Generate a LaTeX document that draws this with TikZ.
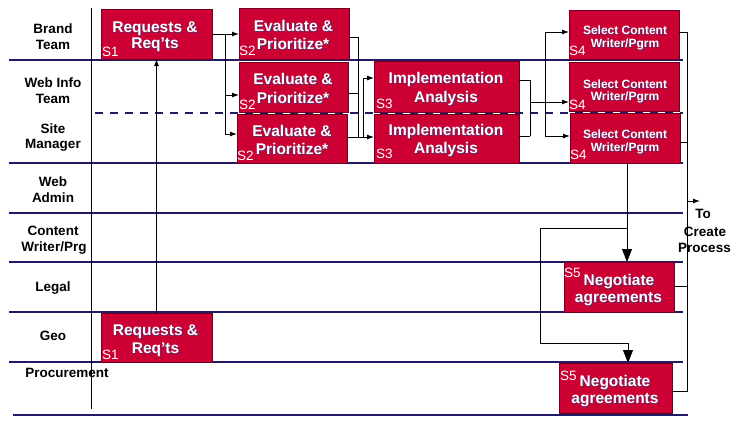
\documentclass[tikz,border=0pt]{standalone}
\usepackage{fontspec}
\setmainfont{Liberation Sans}
\usetikzlibrary{arrows.meta}
\definecolor{lane}{RGB}{35,25,100}
\definecolor{boxfill}{RGB}{204,0,51}
\definecolor{boxline}{RGB}{110,0,35}
\definecolor{shd}{RGB}{95,45,105}
\newcommand\bxtxt[5]{%
  \node[font=\bfseries\fontsize{#4}{#4}\selectfont,text=shd,anchor=base,inner sep=0pt] (#1s) at ({#2+1.1},{#3+1.1}) {#5};
  \node[font=\bfseries\fontsize{#4}{#4}\selectfont,text=white,anchor=base,inner sep=0pt] (#1) at (#2,#3) {#5};}
\begin{document}
\begin{tikzpicture}[x=1pt,y=-1pt,
  laneline/.style={draw=lane,line width=1.6pt},
  procbox/.style={rectangle,fill=boxfill,draw=boxline,line width=0.8pt,inner sep=0pt,outer sep=0pt},
  conn/.style={draw=black,line width=0.9pt},
  arr/.style={conn,-{Latex[length=7pt,width=5pt]}},
  bigarr/.style={conn,-{Triangle[length=13pt,width=10pt]}},
  lanelbl/.style={font=\bfseries\fontsize{13.5}{13.5}\selectfont,anchor=base,inner sep=0pt},
  stag/.style={font=\fontsize{13.5}{13.5}\selectfont,text=white,anchor=base west,inner sep=0pt}]
\useasboundingbox (0,0) rectangle (734,424);
% lanes
\draw[laneline] (9,60) -- (683,60);
\draw[laneline,dash pattern=on 8pt off 7pt] (95,113) -- (683,113);
\draw[laneline] (9,163) -- (683,163);
\draw[laneline] (9,213) -- (683,213);
\draw[laneline] (9,262) -- (683,262);
\draw[laneline] (9,312) -- (683,312);
\draw[laneline] (9,362) -- (683,362);
\draw[laneline] (13,415) -- (688,415);
\draw[line width=1pt] (91.5,8) -- (91.5,409);
% lane labels
\node[lanelbl] (l1a) at (53,33) {Brand};
\node[lanelbl] (l1b) at (53,49) {Team};
\node[lanelbl] (l2a) at (53,87) {Web Info};
\node[lanelbl] (l2b) at (53,103) {Team};
\node[lanelbl] (l3a) at (53,133) {Site};
\node[lanelbl] (l3b) at (53,148) {Manager};
\node[lanelbl] (l4a) at (53,186) {Web};
\node[lanelbl] (l4b) at (53,202) {Admin};
\node[lanelbl] (l5a) at (53,235) {Content};
\node[lanelbl] (l5b) at (54,251) {Writer/Prg};
\node[lanelbl] (l6) at (53,291) {Legal};
\node[lanelbl] (l7) at (53,340) {Geo};
\node[lanelbl] (l8) at (67,377) {Procurement};
% boxes
\node[procbox,minimum width=111pt,minimum height=50pt] (s1b) at (156.5,34) {};
\node[procbox,minimum width=111pt,minimum height=49pt] (s1g) at (156.5,337.5) {};
\node[procbox,minimum width=110pt,minimum height=51pt] (s2b) at (294,33.5) {};
\node[procbox,minimum width=109pt,minimum height=50pt] (s2w) at (293.5,87) {};
\node[procbox,minimum width=110pt,minimum height=49pt] (s2s) at (292,138.5) {};
\node[procbox,minimum width=145pt,minimum height=51pt] (s3w) at (446.5,86.5) {};
\node[procbox,minimum width=145pt,minimum height=49pt] (s3s) at (446.5,138.5) {};
\node[procbox,minimum width=110pt,minimum height=49pt] (s4b) at (624,34.5) {};
\node[procbox,minimum width=110pt,minimum height=49pt] (s4w) at (624,86.5) {};
\node[procbox,minimum width=110pt,minimum height=50pt] (s4s) at (625,138) {};
\node[procbox,minimum width=110pt,minimum height=50pt] (s5l) at (619,287) {};
\node[procbox,minimum width=113pt,minimum height=50pt] (s5p) at (615.5,388) {};
% box texts
\bxtxt{t1a}{155}{32}{15.5}{Requests \&}
\bxtxt{t1b}{155}{48}{15.5}{Req'ts}
\bxtxt{t1c}{155.5}{335}{15.5}{Requests \&}
\bxtxt{t1d}{155.5}{353}{15.5}{Req'ts}
\bxtxt{t2a}{293.5}{31}{15.5}{Evaluate \&}
\bxtxt{t2b}{293}{49}{15.5}{Prioritize*}
\bxtxt{t2c}{293}{84}{15.5}{Evaluate \&}
\bxtxt{t2d}{293}{103}{15.5}{Prioritize*}
\bxtxt{t2e}{292}{136}{15.5}{Evaluate \&}
\bxtxt{t2f}{292}{154}{15.5}{Prioritize*}
\bxtxt{t3a}{446}{83}{15.5}{Implementation}
\bxtxt{t3b}{446}{102}{15.5}{Analysis}
\bxtxt{t3c}{446}{135}{15.5}{Implementation}
\bxtxt{t3d}{446}{153}{15.5}{Analysis}
\bxtxt{t4a}{625}{34}{12}{Select Content}
\bxtxt{t4b}{625}{47}{12}{Writer/Pgrm}
\bxtxt{t4c}{625}{88}{12}{Select Content}
\bxtxt{t4d}{625}{100}{12}{Writer/Pgrm}
\bxtxt{t4e}{625}{138}{12}{Select Content}
\bxtxt{t4f}{625}{151}{12}{Writer/Pgrm}
\bxtxt{t5a}{619}{285}{15.5}{Negotiate}
\bxtxt{t5b}{618.5}{302}{15.5}{agreements}
\bxtxt{t5c}{615}{386}{15.5}{Negotiate}
\bxtxt{t5d}{615}{403}{15.5}{agreements}
% step tags
\node[stag] (g1a) at (102,56) {S1};
\node[stag] (g1b) at (102,359) {S1};
\node[stag] (g2a) at (239,55) {S2};
\node[stag] (g2b) at (239,109) {S2};
\node[stag] (g2c) at (237,160) {S2};
\node[stag] (g3a) at (376,108) {S3};
\node[stag] (g3b) at (376,158) {S3};
\node[stag] (g4a) at (569,55) {S4};
\node[stag] (g4b) at (569,109) {S4};
\node[stag] (g4c) at (570,159) {S4};
\node[stag] (g5a) at (564,277) {S5};
\node[stag] (g5b) at (560,380) {S5};
% connectors
\draw[arr] (s1g.north) -- (s1g.north |- s1b.south);
\draw[arr] (s1b.east) -- (s1b.east -| s2b.west);
\coordinate (ja) at (225,34);
\draw[arr] (ja) |- ([yshift=-8pt]s2w.west);
\draw[arr] (ja) |- ([yshift=4.5pt]s2s.west);
\coordinate (jb) at (358,137);
\coordinate (jc) at (363,137);
\draw[conn] ([yshift=-3.5pt]s2b.east) -| (jb);
\draw[conn] ([yshift=-6pt]s2w.east) -- ([yshift=-6pt]s2w.east -| jb);
\draw[conn] ([yshift=1.5pt]s2s.east) -- (jc);
\draw[arr] (jc) |- ([yshift=8.5pt]s3w.west);
\draw[arr] (jc) -- (jc -| s3s.west);
\coordinate (jd) at (530,136);
\draw[conn] ([yshift=6.5pt]s3w.east) -| (jd);
\draw[conn] ([yshift=2.5pt]s3s.east) -- (jd);
\coordinate (je) at (530,102);
\draw[arr] (je) -- (je -| s4w.west);
\coordinate (jf) at (545,102);
\draw[arr] (jf) |- ([yshift=2.5pt]s4b.west);
\draw[arr] (jf) |- ([yshift=2pt]s4s.west);
\coordinate (jg) at (687,201);
\coordinate (jh) at (700,201);
\draw[conn] ([yshift=2.5pt]s4b.east) -| (jg);
\draw[conn] ([yshift=-4pt]s4s.east) -| (jg);
\draw[conn] ([yshift=1pt]s5l.east) -| (jg);
\draw[conn] ([yshift=-3pt]s5p.east) -| (jg);
\draw[arr] (jg) -- (jh);
\draw[bigarr] ([xshift=2pt]s4s.south) -- ([xshift=2pt]s4s.south |- s5l.north);
\coordinate (kb) at (627,228);
\coordinate (kc) at (540,228);
\coordinate (kd) at (540,343);
\coordinate (ke) at (628,343);
\draw[bigarr] (kb) -- (kc) -- (kd) -- (ke) -- (ke |- s5p.north);
% destination text
\node[lanelbl] (tcp1) at (703,218) {To};
\node[lanelbl] (tcp2) at (705,236) {Create};
\node[lanelbl] (tcp3) at (704.5,252) {Process};
\end{tikzpicture}
\end{document}
